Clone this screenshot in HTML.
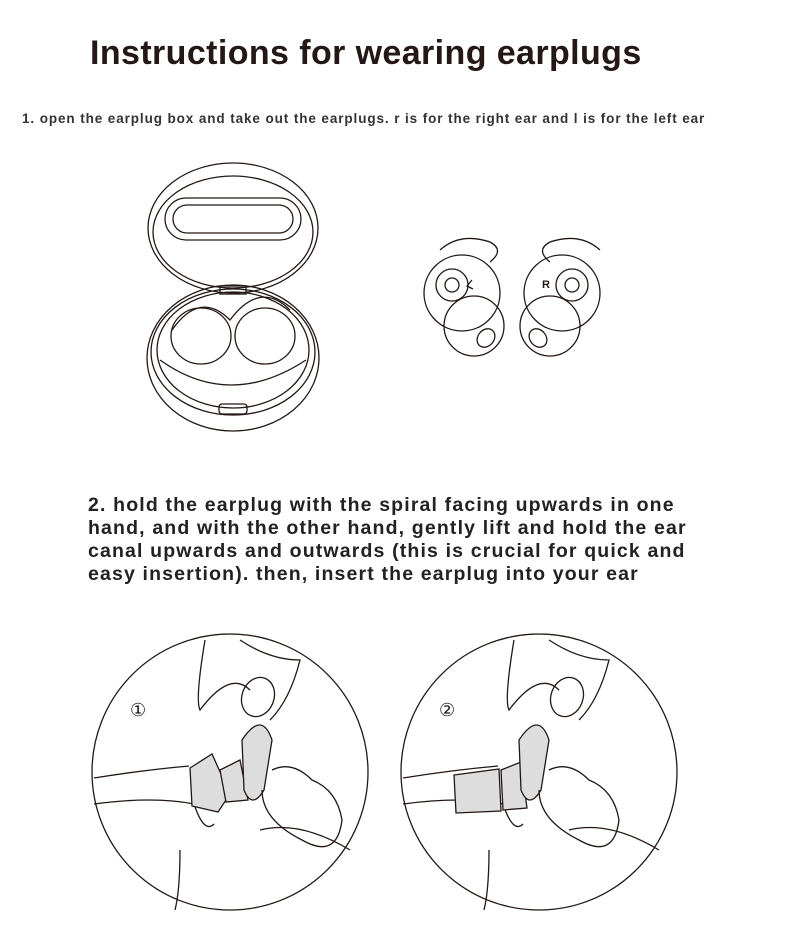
<!DOCTYPE html>
<html><head><meta charset="utf-8"><style>
body{margin:0;background:#fff;width:790px;height:941px;overflow:hidden;font-family:"Liberation Sans",sans-serif;color:#231815}
.t{position:absolute;left:90px;top:34px;font-size:34px;font-weight:bold;letter-spacing:0.4px}
.s1{position:absolute;left:22px;top:111px;font-size:13.5px;font-weight:bold;color:#333;letter-spacing:0.9px;white-space:nowrap}
.s2{position:absolute;left:88px;top:494px;font-size:19.5px;font-weight:bold;line-height:23px;color:#222;letter-spacing:1.15px;white-space:nowrap}
svg{position:absolute;left:0;top:0}
</style></head><body>
<div class="t">Instructions for wearing earplugs</div>
<div class="s1">1. open the earplug box and take out the earplugs. r is for the right ear and l is for the left ear</div>
<div class="s2">2. hold the earplug with the spiral facing upwards in one<br>hand, and with the other hand, gently lift and hold the ear<br>canal upwards and outwards (this is crucial for quick and<br>easy insertion). then, insert the earplug into your ear</div>
<svg width="790" height="941" fill="none" stroke="#231815" stroke-width="1.3">
<ellipse cx="233" cy="228" rx="85" ry="65"/>
<ellipse cx="233" cy="232" rx="80" ry="56"/>
<rect x="165" y="198" width="136" height="42" rx="21"/>
<rect x="173" y="205" width="120" height="28" rx="14"/>
<rect x="220" y="286" width="26" height="8"/>
<ellipse cx="233" cy="358" rx="86" ry="73"/>
<ellipse cx="233" cy="352" rx="82" ry="63"/>
<ellipse cx="233" cy="350" rx="76" ry="58"/>
<path d="M172 330 q28 -40 58 -10 q30 -40 60 -10"/>
<ellipse cx="201" cy="336" rx="30" ry="28"/>
<ellipse cx="265" cy="336" rx="30" ry="28"/>
<path d="M160 360 q70 50 146 0"/>
<rect x="219" y="404" width="28" height="10" rx="3"/>
<path d="M440 250 q20 -18 50 -8 q15 8 0 20"/>
<circle cx="462" cy="293" r="38"/>
<circle cx="452" cy="285" r="16"/><circle cx="452" cy="285" r="7"/>
<ellipse cx="474" cy="326" rx="30" ry="30"/>
<ellipse cx="486" cy="338" rx="8" ry="10" transform="rotate(40 486 338)"/>
<path d="M472 280 l-5 6 l6 3"/>
<path d="M600 250 q-20 -18 -50 -8 q-15 8 0 20"/>
<circle cx="562" cy="293" r="38"/>
<circle cx="572" cy="285" r="16"/><circle cx="572" cy="285" r="7"/>
<ellipse cx="550" cy="326" rx="30" ry="30"/>
<ellipse cx="538" cy="338" rx="8" ry="10" transform="rotate(-40 538 338)"/>
<text x="542" y="288" font-size="11" font-weight="bold" fill="#231815" stroke="none">R</text>
<circle cx="230" cy="772" r="138"/>
<circle cx="539" cy="772" r="138"/>
<g>
<path d="M94 778 q50 -8 95 -12 M94 804 q60 -8 100 0 q10 30 20 20"/>
<path d="M205 640 q-10 60 -5 70 q30 -40 50 -20"/>
<path d="M240 640 q30 20 60 20 q-10 40 -30 60"/>
<ellipse cx="258" cy="697" rx="16" ry="20" transform="rotate(20 258 697)"/>
<path d="M190 768 l22 -14 l18 40 l-12 18 l-26 -6 z" fill="#ddd"/>
<path d="M220 770 l20 -10 l8 40 l-22 2 z" fill="#ddd"/>
<path d="M242 740 q20 -30 30 0 l-8 50 q-12 20 -20 0 z" fill="#ddd"/>
<path d="M272 770 q20 -10 40 10 q25 10 30 40 q-5 40 -40 20 q-40 -20 -40 -50"/>
<path d="M180 850 q0 40 -5 60 M260 830 q40 -10 90 20"/>
<text x="130" y="716" font-size="18" fill="#231815" stroke="none">①</text>
</g>
<g transform="translate(309 0)">
<path d="M94 778 q50 -8 95 -12 M94 804 q60 -8 100 0 q10 30 20 20"/>
<path d="M205 640 q-10 60 -5 70 q30 -40 50 -20"/>
<path d="M240 640 q30 20 60 20 q-10 40 -30 60"/>
<ellipse cx="258" cy="697" rx="16" ry="20" transform="rotate(20 258 697)"/>
<path d="M145 775 l45 -6 l2 42 l-45 2 z" fill="#ddd"/>
<path d="M192 770 l20 -8 l6 46 l-24 2 z" fill="#ddd"/>
<path d="M210 740 q20 -30 30 0 l-8 50 q-12 20 -20 0 z" fill="#ddd"/>
<path d="M240 770 q20 -10 40 10 q25 10 30 40 q-5 40 -40 20 q-40 -20 -40 -50"/>
<path d="M180 850 q0 40 -5 60 M260 830 q40 -10 90 20"/>
<text x="130" y="716" font-size="18" fill="#231815" stroke="none">②</text>
</g>
</svg>
</body></html>
